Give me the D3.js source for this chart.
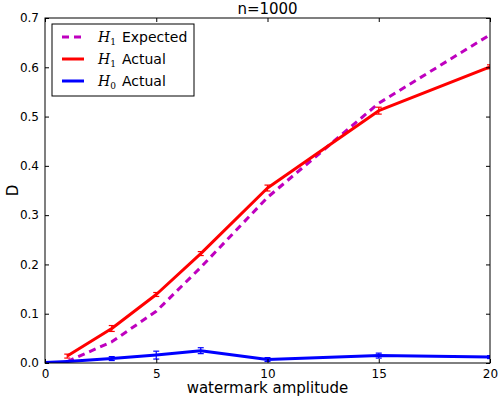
<!DOCTYPE html>
<html>
<head>
<meta charset="utf-8">
<script src="https://cdn.jsdelivr.net/npm/d3@7"></script>
<style>
  body { margin: 0; background: #fff; }
  text { font-family: "DejaVu Sans", sans-serif; }
</style>
</head>
<body>
<div id="chart"></div>
<script>
// amplitudes and measured D values
var expectedX = [1, 3, 5, 7, 10, 15, 20];
var expectedD = [0.003, 0.043, 0.105, 0.194, 0.336, 0.527, 0.666];

var h1X = [1, 3, 5, 7, 10, 15, 20];
var h1D = [0.014, 0.070, 0.139, 0.222, 0.355, 0.512, 0.601];
var h1Err = [0.004, 0.006, 0.004, 0.004, 0.006, 0.007, 0.004];

var h0X = [0, 1, 3, 5, 7, 10, 15, 20];
var h0D = [0.001, 0.003, 0.009, 0.016, 0.025, 0.007, 0.015, 0.012];
var h0Err = [0, 0, 0.004, 0.008, 0.006, 0.004, 0.005, 0.003];

var xTicks = [0, 5, 10, 15, 20];
var yTicks = [0.0, 0.1, 0.2, 0.3, 0.4, 0.5, 0.6, 0.7];

var W = 498, H = 404;
var margin = { top: 18, right: 8, bottom: 41, left: 45 },
    width = W - margin.left - margin.right,
    height = H - margin.top - margin.bottom;

var svg = d3.select("#chart").append("svg")
    .attr("width", W).attr("height", H);
var g = svg.append("g")
    .attr("transform", "translate(" + margin.left + "," + margin.top + ")");

var x = d3.scaleLinear().domain([0, 20]).range([0, width]);
var y = d3.scaleLinear().domain([0, 0.7]).range([height, 0]);

svg.append("clipPath").attr("id", "clip")
    .append("rect").attr("width", width).attr("height", height);

// data lines
var plot = g.append("g").attr("clip-path", "url(#clip)");
var line = d3.line().x(function (d) { return x(d[0]); }).y(function (d) { return y(d[1]); });

function series(xs, ys, errs, color, dash) {
    var pts = xs.map(function (v, i) { return [v, ys[i]]; });
    plot.append("path")
        .datum(pts)
        .attr("d", line)
        .attr("fill", "none")
        .attr("stroke", color)
        .attr("stroke-width", 3)
        .attr("stroke-dasharray", dash || null)
        .attr("stroke-linejoin", "round");
    if (!errs) return;
    xs.forEach(function (v, i) {
        if (!errs[i]) return;
        var cx = x(v), y1 = y(ys[i] - errs[i]), y2 = y(ys[i] + errs[i]);
        var eb = plot.append("g").attr("stroke", color).attr("stroke-width", 1.2);
        eb.append("line").attr("x1", cx).attr("x2", cx).attr("y1", y1).attr("y2", y2);
        eb.append("line").attr("x1", cx - 3).attr("x2", cx + 3).attr("y1", y1).attr("y2", y1);
        eb.append("line").attr("x1", cx - 3).attr("x2", cx + 3).attr("y1", y2).attr("y2", y2);
    });
}

series(expectedX, expectedD, null, "#bf00bf", "7,5");
series(h1X, h1D, h1Err, "#ff0000");
series(h0X, h0D, h0Err, "#0000ff");

// axes with inward ticks on all sides
g.append("g").attr("transform", "translate(0," + height + ")")
    .call(d3.axisBottom(x).tickValues(xTicks).tickSizeInner(-4).tickSizeOuter(0).tickPadding(6).tickFormat(d3.format("d")));
g.append("g")
    .call(d3.axisTop(x).tickValues(xTicks).tickSizeInner(-4).tickSizeOuter(0).tickFormat(""));
g.append("g")
    .call(d3.axisLeft(y).tickValues(yTicks).tickSizeInner(-4).tickSizeOuter(0).tickPadding(6).tickFormat(d3.format(".1f")));
g.append("g").attr("transform", "translate(" + width + ",0)")
    .call(d3.axisRight(y).tickValues(yTicks).tickSizeInner(-4).tickSizeOuter(0).tickFormat(""));
g.selectAll(".domain").remove();
g.selectAll(".tick text").attr("font-size", 12).attr("fill", "#000").attr("font-family", "DejaVu Sans");

g.append("rect").attr("width", width).attr("height", height)
    .attr("fill", "none").attr("stroke", "#000").attr("stroke-width", 1);

// labels
svg.append("text").attr("x", margin.left + width / 2).attr("y", 14)
    .attr("text-anchor", "middle").attr("font-size", 15).text("n=1000");
svg.append("text").attr("x", margin.left + width / 2).attr("y", 393)
    .attr("text-anchor", "middle").attr("font-size", 15).text("watermark amplitude");
svg.append("text").attr("transform", "translate(18," + (margin.top + height / 2) + ") rotate(-90)")
    .attr("text-anchor", "middle").attr("font-size", 15).text("D");

// legend
var legendItems = [
    { sub: "1", label: "Expected", color: "#bf00bf", dash: "7,5" },
    { sub: "1", label: "Actual", color: "#ff0000", dash: null },
    { sub: "0", label: "Actual", color: "#0000ff", dash: null }
];
var lg = svg.append("g").attr("transform", "translate(52,24)");
lg.append("rect").attr("width", 142).attr("height", 72)
    .attr("fill", "#fff").attr("stroke", "#000").attr("stroke-width", 1);
legendItems.forEach(function (d, i) {
    var ly = 13 + i * 22;
    lg.append("line").attr("x1", 10).attr("x2", 32).attr("y1", ly).attr("y2", ly)
        .attr("stroke", d.color).attr("stroke-width", 3).attr("stroke-dasharray", d.dash);
    var t = lg.append("text").attr("x", 46).attr("y", ly + 5).attr("font-size", 14);
    t.append("tspan").attr("font-family", "DejaVu Serif").attr("font-style", "italic").text("H");
    t.append("tspan").attr("font-family", "DejaVu Serif").attr("font-size", 9).attr("dy", 3).text(d.sub);
    t.append("tspan").attr("dy", -3).attr("dx", 6).text(d.label);
});
</script>
</body>
</html>
